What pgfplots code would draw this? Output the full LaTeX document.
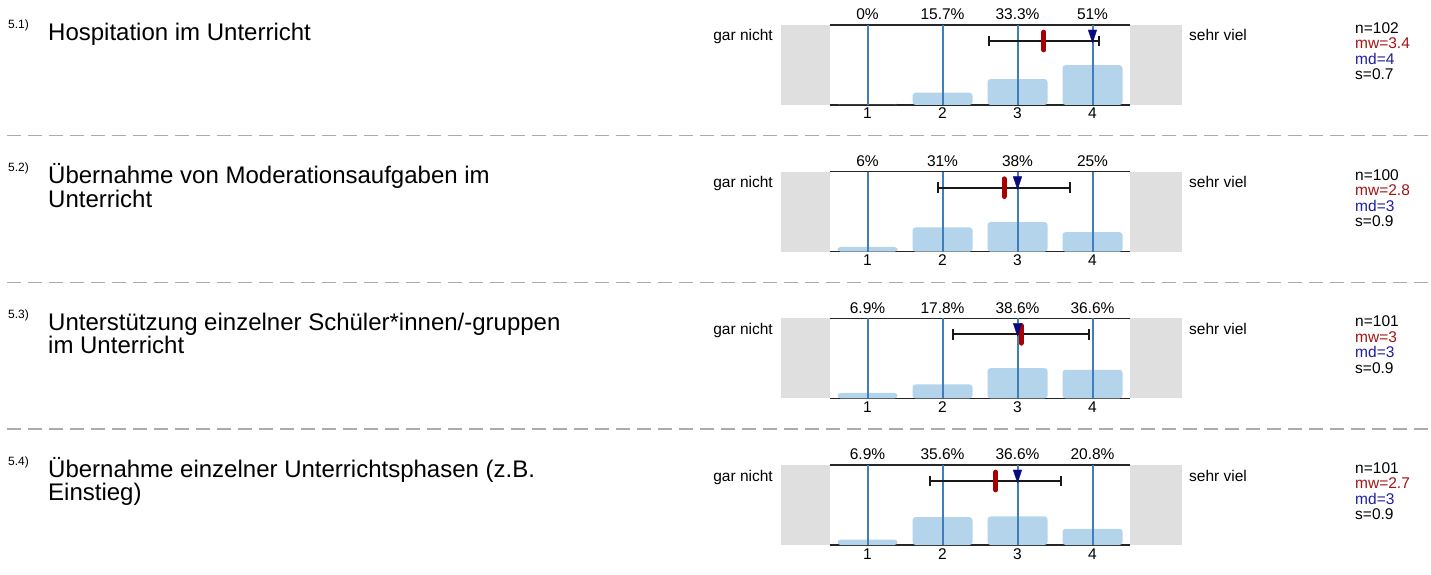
\documentclass[border=0pt]{standalone}
\usepackage{pgfplots}
\pgfplotsset{compat=1.18}
\usepackage{fontspec}
\setmainfont{Liberation Sans}
\definecolor{barblue}{HTML}{B3D4EA}
\definecolor{lineblue}{HTML}{3F7DBB}
\definecolor{boxgray}{HTML}{DFDFDF}
\definecolor{meanred}{HTML}{A80000}
\definecolor{mednavy}{HTML}{0A0A80}
\definecolor{mwred}{HTML}{A01515}
\definecolor{mdblue}{HTML}{1E1EA0}
\definecolor{sepgray}{HTML}{ABABAB}
\newcommand{\sm}{\fontsize{15.5}{15.5}\selectfont}
\newcommand{\tl}{\fontsize{24}{24}\selectfont}
\newcommand{\supf}{\fontsize{12}{12}\selectfont}
\pgfplotsset{
 rowax/.style={
  width=300pt, height=80pt, scale only axis,
  xmin=0.5, xmax=4.5, ymin=0, ymax=102.5,
  axis x line=box, axis y line=none,
  x axis line style={line width=1.5pt, draw=black!85},
  xtick={1,2,3,4}, ytick=\empty, major tick length=0pt,
  xticklabel style={font=\sm, anchor=base, yshift=-14pt},
  /pgf/number format/assume math mode=true,
  clip=false, anchor=south west,
 },
 pct/.style={draw=none, mark=none, nodes near coords, point meta=explicit symbolic,
   every node near coord/.append style={font=\sm, inner sep=0pt, text depth=0pt, yshift=5pt}},
 vl/.style={ycomb, lineblue, line width=2pt, mark=none},
 eb/.style={black!90, line width=2pt, mark=|, mark size=5.3pt, mark options={line width=2pt, solid}},
 md/.style={only marks, mark=triangle*, mark size=5pt, mark options={fill=mednavy, draw=mednavy, line width=0.3pt, rotate=180, yscale=1.7}},
 mw/.style={meanred, line width=5pt, line cap=round, mark=none},
 bars/.style={ybar, bar width=60pt, fill=barblue, draw=none, mark=none, rounded corners=3pt},
}
\begin{document}
\begin{tikzpicture}[x=1pt,y=1pt]
\useasboundingbox (0,0) rectangle (1431,-575);
% separators
\foreach \y in {135.7,282.3,429}
  \draw[sepgray, line width=1.3pt, dash pattern=on 14pt off 7pt] (7,-\y) -- (1431,-\y);
% gray end boxes
\foreach \t in {25,171.67,318.33,465} {
  \fill[boxgray] (781,-\t) rectangle (830,{-\t-80});
  \fill[boxgray] (1130,-\t) rectangle (1182,{-\t-80});
}
% ---------- row 1 ----------
\node[anchor=base west, font=\supf, inner sep=0pt] at (8,-28.7) {5.1)};
\node[anchor=base west, font=\tl, inner sep=0pt] at (48,-41) {Hospitation im Unterricht};
\node[anchor=base east, font=\sm, inner sep=0pt] at (773,-41) {gar nicht};
\node[anchor=base west, font=\sm, inner sep=0pt] at (1189,-41) {sehr viel};
\node[anchor=base west, font=\sm, inner sep=0pt] at (1355,-33.3) {n=102};
\node[anchor=base west, font=\sm, inner sep=0pt, text=mwred] at (1355,-48.8) {mw=3.4};
\node[anchor=base west, font=\sm, inner sep=0pt, text=mdblue] at (1355,-64.3) {md=4};
\node[anchor=base west, font=\sm, inner sep=0pt] at (1355,-79.8) {s=0.7};
\begin{axis}[rowax, at={(830pt,-105pt)}]
\addplot[bars] coordinates {(1,0) (2,15.7) (3,33.3) (4,51)};
\addplot[vl] coordinates {(1,102.5) (2,102.5) (3,102.5) (4,102.5)};
\addplot[eb] coordinates {(2.617,82) (4.089,82)};
\addplot[md] coordinates {(4,90.7)};
\addplot[mw] coordinates {(3.353,70.7) (3.353,93.3)};
\addplot[pct] coordinates {(1,102.5) [0\%] (2,102.5) [15.7\%] (3,102.5) [33.3\%] (4,102.5) [51\%]};
\end{axis}
% ---------- row 2 ----------
\node[anchor=base west, font=\supf, inner sep=0pt] at (8,-171.7) {5.2)};
\node[anchor=base west, font=\tl, inner sep=0pt] at (48,-183.7) {Übernahme von Moderationsaufgaben im};
\node[anchor=base west, font=\tl, inner sep=0pt] at (48,-207.2) {Unterricht};
\node[anchor=base east, font=\sm, inner sep=0pt] at (773,-187.7) {gar nicht};
\node[anchor=base west, font=\sm, inner sep=0pt] at (1189,-187.7) {sehr viel};
\node[anchor=base west, font=\sm, inner sep=0pt] at (1355,-180) {n=100};
\node[anchor=base west, font=\sm, inner sep=0pt, text=mwred] at (1355,-195.5) {mw=2.8};
\node[anchor=base west, font=\sm, inner sep=0pt, text=mdblue] at (1355,-211) {md=3};
\node[anchor=base west, font=\sm, inner sep=0pt] at (1355,-226.5) {s=0.9};
\begin{axis}[rowax, at={(830pt,-251.67pt)}]
\addplot[bars] coordinates {(1,6) (2,31) (3,38) (4,25)};
\addplot[vl] coordinates {(1,102.5) (2,102.5) (3,102.5) (4,102.5)};
\addplot[eb] coordinates {(1.944,82) (3.696,82)};
\addplot[md] coordinates {(3,90.7)};
\addplot[mw] coordinates {(2.82,70.7) (2.82,93.3)};
\addplot[pct] coordinates {(1,102.5) [6\%] (2,102.5) [31\%] (3,102.5) [38\%] (4,102.5) [25\%]};
\end{axis}
% ---------- row 3 ----------
\node[anchor=base west, font=\supf, inner sep=0pt] at (8,-318.3) {5.3)};
\node[anchor=base west, font=\tl, inner sep=0pt] at (48,-330.3) {Unterstützung einzelner Schüler*innen/-gruppen};
\node[anchor=base west, font=\tl, inner sep=0pt] at (48,-353.8) {im Unterricht};
\node[anchor=base east, font=\sm, inner sep=0pt] at (773,-334.3) {gar nicht};
\node[anchor=base west, font=\sm, inner sep=0pt] at (1189,-334.3) {sehr viel};
\node[anchor=base west, font=\sm, inner sep=0pt] at (1355,-326.6) {n=101};
\node[anchor=base west, font=\sm, inner sep=0pt, text=mwred] at (1355,-342.1) {mw=3};
\node[anchor=base west, font=\sm, inner sep=0pt, text=mdblue] at (1355,-357.6) {md=3};
\node[anchor=base west, font=\sm, inner sep=0pt] at (1355,-373.1) {s=0.9};
\begin{axis}[rowax, at={(830pt,-398.33pt)}]
\addplot[bars] coordinates {(1,6.9) (2,17.8) (3,38.6) (4,36.6)};
\addplot[vl] coordinates {(1,102.5) (2,102.5) (3,102.5) (4,102.5)};
\addplot[eb] coordinates {(2.138,82) (3.956,82)};
\addplot[md] coordinates {(3,90.7)};
\addplot[mw] coordinates {(3.047,70.7) (3.047,93.3)};
\addplot[pct] coordinates {(1,102.5) [6.9\%] (2,102.5) [17.8\%] (3,102.5) [38.6\%] (4,102.5) [36.6\%]};
\end{axis}
% ---------- row 4 ----------
\node[anchor=base west, font=\supf, inner sep=0pt] at (8,-465) {5.4)};
\node[anchor=base west, font=\tl, inner sep=0pt] at (48,-477) {Übernahme einzelner Unterrichtsphasen (z.B.};
\node[anchor=base west, font=\tl, inner sep=0pt] at (48,-500.5) {Einstieg)};
\node[anchor=base east, font=\sm, inner sep=0pt] at (773,-481) {gar nicht};
\node[anchor=base west, font=\sm, inner sep=0pt] at (1189,-481) {sehr viel};
\node[anchor=base west, font=\sm, inner sep=0pt] at (1355,-473.3) {n=101};
\node[anchor=base west, font=\sm, inner sep=0pt, text=mwred] at (1355,-488.8) {mw=2.7};
\node[anchor=base west, font=\sm, inner sep=0pt, text=mdblue] at (1355,-504.3) {md=3};
\node[anchor=base west, font=\sm, inner sep=0pt] at (1355,-519.8) {s=0.9};
\begin{axis}[rowax, at={(830pt,-545pt)}]
\addplot[bars] coordinates {(1,6.9) (2,35.6) (3,36.6) (4,20.8)};
\addplot[vl] coordinates {(1,102.5) (2,102.5) (3,102.5) (4,102.5)};
\addplot[eb] coordinates {(1.836,82) (3.586,82)};
\addplot[md] coordinates {(3,90.7)};
\addplot[mw] coordinates {(2.711,70.7) (2.711,93.3)};
\addplot[pct] coordinates {(1,102.5) [6.9\%] (2,102.5) [35.6\%] (3,102.5) [36.6\%] (4,102.5) [20.8\%]};
\end{axis}
\end{tikzpicture}
\end{document}
